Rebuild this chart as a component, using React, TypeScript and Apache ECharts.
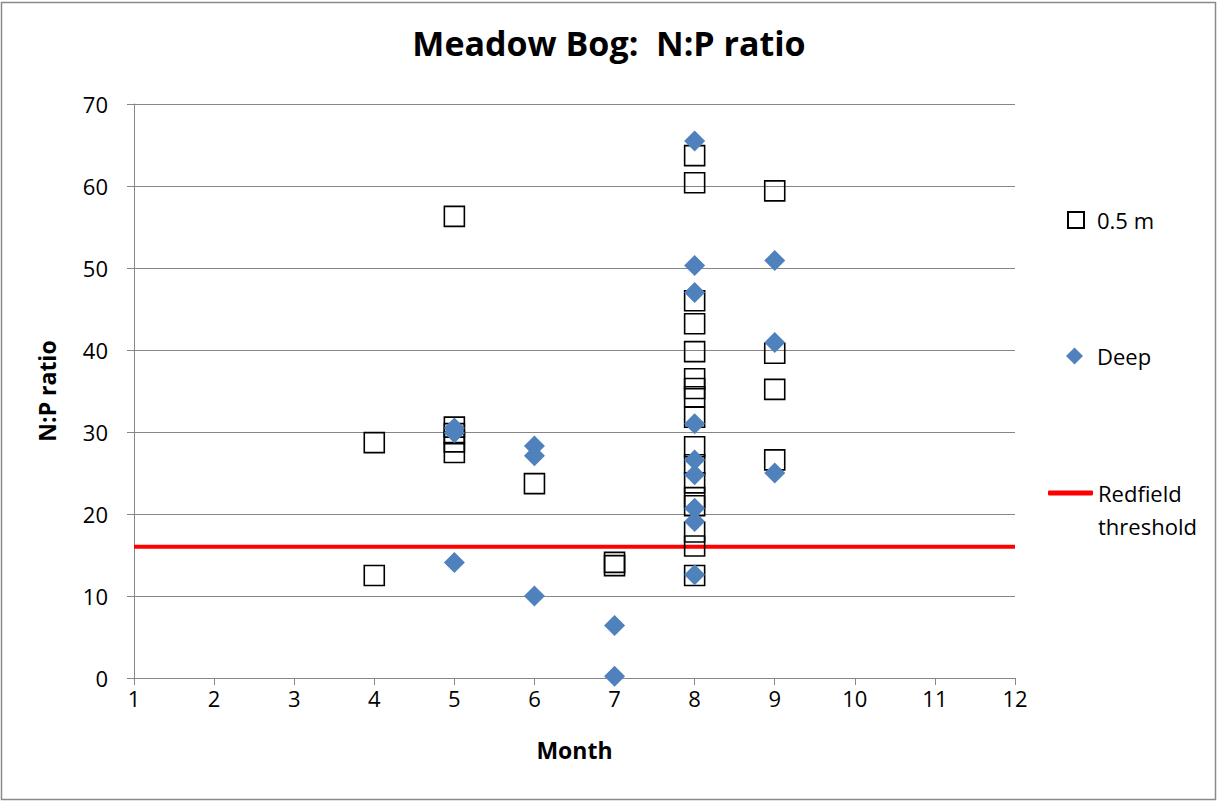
import React, { useEffect, useRef } from "react";
import * as echarts from "echarts";

const monthsShallow = [4, 4, 5, 5, 5, 5, 5, 6, 7, 7,
  8, 8, 8, 8, 8, 8, 8, 8, 8, 8, 8, 8, 8, 8, 8, 8, 8,
  9, 9, 9, 9];
const valuesShallow = [28.7, 12.5, 56.3, 30.6, 29.8, 28.8, 27.5, 23.7, 14.1, 13.7,
  63.7, 60.4, 46.0, 43.2, 39.8, 36.5, 35.3, 34.3, 31.8, 28.2, 26.0, 23.8, 22.0, 21.0, 17.8, 16.1, 12.5,
  59.4, 39.6, 35.2, 26.6];

const monthsDeep = [5, 5, 5, 6, 6, 6, 7, 7, 8, 8, 8, 8, 8, 8, 8, 8, 8, 9, 9, 9];
const valuesDeep = [30.5, 29.9, 14.1, 28.3, 27.1, 10.0, 6.4, 0.2,
  65.5, 50.3, 47.0, 31.0, 26.6, 24.8, 20.7, 19.1, 12.6, 50.9, 40.9, 25.0];

const redfieldX = [1, 12];
const redfieldY = [16, 16];

const xTicks = { min: 1, max: 12, interval: 1 };
const yTicks = { min: 0, max: 70, interval: 10 };

const FONT = "Open Sans";

export default function App() {
  const ref = useRef<HTMLDivElement>(null);
  useEffect(() => {
    if (!ref.current) return;
    const chart = echarts.init(ref.current, null, { renderer: "svg" });
    const axisGray = "#868686";
    chart.setOption({
      animation: false,
      backgroundColor: "#ffffff",
      textStyle: { fontFamily: FONT, color: "#000" },
      title: {
        text: "Meadow Bog:  N:P ratio",
        left: "center",
        top: 21,
        textStyle: { fontFamily: FONT, fontSize: 34, fontWeight: "bold", color: "#000" },
      },
      graphic: [
        {
          type: "rect",
          shape: { x: 1.5, y: 2.5, width: 1214, height: 797 },
          style: { fill: "none", stroke: "#8a8a8a", lineWidth: 1.5 },
          silent: true,
        },
        {
          type: "text",
          x: 1098,
          y: 526,
          silent: true,
          style: {
            text: "threshold",
            font: `22px "${FONT}"`,
            fill: "#000",
            verticalAlign: "middle",
            align: "left",
          },
        },
      ],
      grid: { left: 134, right: 203, top: 104, bottom: 123 },
      xAxis: {
        type: "value",
        min: xTicks.min,
        max: xTicks.max,
        interval: xTicks.interval,
        name: "Month",
        nameLocation: "middle",
        nameGap: 60,
        nameTextStyle: { fontFamily: FONT, fontSize: 23, fontWeight: "bold", color: "#000" },
        axisLine: { show: true, lineStyle: { color: axisGray, width: 1 } },
        axisTick: { show: true, length: 7, lineStyle: { color: axisGray } },
        axisLabel: { fontFamily: FONT, fontSize: 22, color: "#000", margin: 9 },
        splitLine: { show: false },
      },
      yAxis: {
        type: "value",
        min: yTicks.min,
        max: yTicks.max,
        interval: yTicks.interval,
        name: "N:P ratio",
        nameLocation: "middle",
        nameGap: 76,
        nameRotate: 90,
        nameTextStyle: { fontFamily: FONT, fontSize: 23, fontWeight: "bold", color: "#000" },
        axisLine: { show: true, lineStyle: { color: axisGray, width: 1 } },
        axisTick: { show: true, length: 7, lineStyle: { color: axisGray } },
        axisLabel: { fontFamily: FONT, fontSize: 22, color: "#000", margin: 26 },
        splitLine: { show: true, lineStyle: { color: axisGray, width: 1 } },
      },
      legend: [
        {
          data: ["0.5 m"],
          left: 1062,
          top: 204,
          itemWidth: 16,
          itemHeight: 16,
          itemGap: 0,
          textStyle: { fontFamily: FONT, fontSize: 22, color: "#000", padding: [0, 0, 0, 8] },
        },
        {
          data: [{ name: "Deep", itemStyle: { opacity: 1 } }],
          left: 1061,
          top: 340,
          itemWidth: 17,
          itemHeight: 17,
          textStyle: { fontFamily: FONT, fontSize: 22, color: "#000", padding: [0, 0, 0, 9] },
        },
        {
          data: [{ name: "Redfield threshold", icon: "roundRect" }],
          left: 1043,
          top: 477,
          itemWidth: 45,
          itemHeight: 5,
          formatter: () => "Redfield",
          textStyle: { fontFamily: FONT, fontSize: 22, color: "#000" },
        },
      ],
      series: [
        {
          name: "Redfield threshold",
          type: "line",
          data: redfieldX.map((x, i) => [x, redfieldY[i]]),
          symbol: "none",
          lineStyle: { color: "#ff0000", width: 4 },
          itemStyle: { color: "#ff0000" },
          z: 1,
        },
        {
          name: "0.5 m",
          type: "scatter",
          symbol: "rect",
          symbolSize: 20,
          data: monthsShallow.map((m, i) => [m, valuesShallow[i]]),
          itemStyle: { color: "rgba(0,0,0,0)", borderColor: "#000", borderWidth: 1.6, opacity: 1 },
          z: 2,
        },
        {
          name: "Deep",
          type: "scatter",
          symbol: "diamond",
          symbolSize: 21,
          data: monthsDeep.map((m, i) => [m, valuesDeep[i]]),
          itemStyle: { color: "#4f81bd", opacity: 1 },
          z: 3,
        },
      ],
    });
    return () => chart.dispose();
  }, []);
  return (
    <div
      ref={ref}
      style={{ position: "fixed", left: 0, top: 0, width: 1218, height: 801 }}
    />
  );
}
